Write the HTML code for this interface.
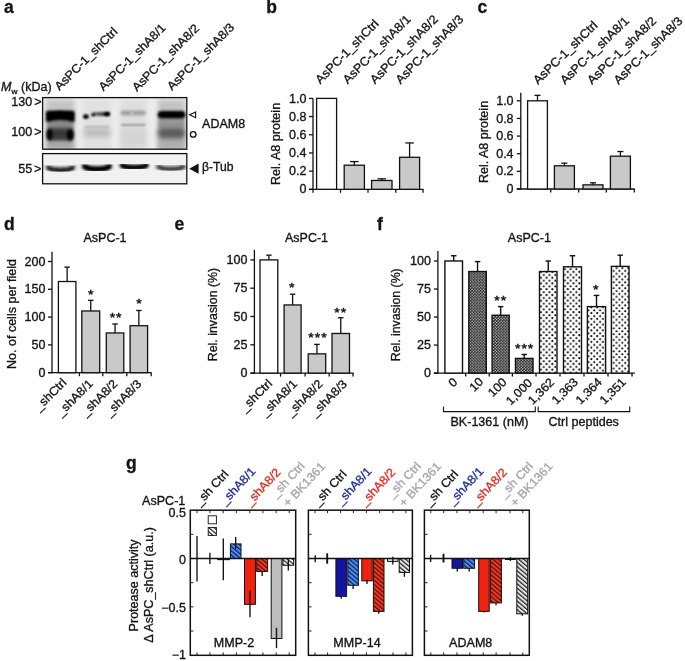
<!DOCTYPE html>
<html><head><meta charset="utf-8"><title>figure</title>
<style>
html,body{margin:0;padding:0;background:#fff;}
body{width:685px;height:661px;overflow:hidden;}
svg{display:block;filter:blur(0.4px);font-family:"Liberation Sans",sans-serif;}
</style></head><body>
<svg width="685" height="661" viewBox="0 0 685 661">
<defs>
<filter id="b1" x="-30%" y="-60%" width="160%" height="220%"><feGaussianBlur stdDeviation="1.6"/></filter>
<filter id="b2" x="-30%" y="-60%" width="160%" height="220%"><feGaussianBlur stdDeviation="2.6"/></filter>
<filter id="b3" x="-30%" y="-60%" width="160%" height="220%"><feGaussianBlur stdDeviation="1.0"/></filter>
<clipPath id="c1"><rect x="42.6" y="97.6" width="144.2" height="51.6"/></clipPath>
<linearGradient id="g2" x1="0" x2="1" y1="0" y2="0"><stop offset="0" stop-color="#8a8a8a"/><stop offset="0.55" stop-color="#444"/><stop offset="1" stop-color="#000"/></linearGradient>
<clipPath id="c2"><rect x="42.6" y="153.6" width="144.2" height="30.2"/></clipPath>
<pattern id="pdark" width="2.9" height="2.9" patternUnits="userSpaceOnUse"><rect width="2.9" height="2.9" fill="#0c0c0c"/><circle cx="0.73" cy="0.73" r="0.72" fill="#fff"/><circle cx="2.18" cy="2.18" r="0.72" fill="#fff"/></pattern>
<pattern id="hB" width="3.3" height="3.3" patternUnits="userSpaceOnUse" patternTransform="rotate(-50)"><rect width="3.3" height="3.3" fill="#4f8fe8"/><rect width="1.25" height="3.3" fill="#0a1e6e"/></pattern>
<pattern id="hR" width="3.3" height="3.3" patternUnits="userSpaceOnUse" patternTransform="rotate(-50)"><rect width="3.3" height="3.3" fill="#f23a22"/><rect width="1.25" height="3.3" fill="#5a0a05"/></pattern>
<pattern id="hG" width="3.3" height="3.3" patternUnits="userSpaceOnUse" patternTransform="rotate(-50)"><rect width="3.3" height="3.3" fill="#e6e6e6"/><rect width="1.25" height="3.3" fill="#222"/></pattern>
<pattern id="hW" width="3.3" height="3.3" patternUnits="userSpaceOnUse" patternTransform="rotate(-50)"><rect width="3.3" height="3.3" fill="#fff"/><rect width="1.25" height="3.3" fill="#222"/></pattern>
</defs>
<rect width="685" height="661" fill="#fff"/>

<text transform="translate(4 13.0)" font-size="17.5" font-weight="bold" fill="#141414" stroke="#141414" stroke-width="0.32">a</text>
<text transform="translate(266.3 13.0)" font-size="17.5" font-weight="bold" fill="#141414" stroke="#141414" stroke-width="0.32">b</text>
<text transform="translate(477.6 13.0)" font-size="17.5" font-weight="bold" fill="#141414" stroke="#141414" stroke-width="0.32">c</text>
<text transform="translate(4 229.5)" font-size="17.5" font-weight="bold" fill="#141414" stroke="#141414" stroke-width="0.32">d</text>
<text transform="translate(174.5 230.3)" font-size="17.5" font-weight="bold" fill="#141414" stroke="#141414" stroke-width="0.32">e</text>
<text transform="translate(377 230)" font-size="17.5" font-weight="bold" fill="#141414" stroke="#141414" stroke-width="0.32">f</text>
<text transform="translate(126 469.0)" font-size="17.5" font-weight="bold" fill="#141414" stroke="#141414" stroke-width="0.32">g</text>
<g clip-path="url(#c1)">
<rect x="42" y="97" width="146" height="53" fill="#ececec"/>
<rect x="46" y="94" width="28.5" height="60" fill="#c4c4c4" filter="url(#b2)"/>
<rect x="83" y="94" width="28" height="60" fill="#e1e1e1" filter="url(#b2)"/>
<rect x="120.5" y="94" width="25.5" height="60" fill="#dedede" filter="url(#b2)"/>
<rect x="158" y="94" width="27" height="60" fill="#c3c3c3" filter="url(#b2)"/>
<rect x="43" y="94" width="145" height="6" fill="#e6e6e6" filter="url(#b2)"/>
<rect x="47" y="120" width="26.5" height="9" fill="#8a8a8a" filter="url(#b1)"/>
<rect x="47" y="141" width="26.5" height="7" fill="#a2a2a2" filter="url(#b2)"/>
<rect x="47" y="127.6" width="26.5" height="13.4" rx="4" fill="#484848" filter="url(#b1)"/>
<rect x="50" y="130.5" width="20" height="7" rx="3" fill="#383838" filter="url(#b1)"/>
<ellipse cx="49.6" cy="134.6" rx="3.0" ry="5.8" fill="#000" filter="url(#b1)"/>
<ellipse cx="70.2" cy="134.8" rx="3.4" ry="5.8" fill="#000" filter="url(#b1)"/>
<path d="M46.3 111.3 Q60 110.1 74.3 111.3 V122.1 Q60 117.7 46.3 122.1 Z" fill="#111" filter="url(#b1)"/>
<path d="M46.8 111.8 Q60 110.7 73.8 111.8 V121.1 Q60 117.1 46.8 121.1 Z" fill="#000" filter="url(#b3)"/>
<rect x="84" y="128.5" width="26" height="8.5" fill="#bcbcbc" filter="url(#b2)"/>
<rect x="84.5" y="126.3" width="24.5" height="1.4" fill="#a8a8a8" filter="url(#b3)"/>
<rect x="92" y="111.9" width="18" height="4.2" rx="2" fill="url(#g2)" filter="url(#b3)"/>
<ellipse cx="85.9" cy="116.6" rx="2.9" ry="2.3" fill="#000" filter="url(#b3)"/>
<ellipse cx="93.2" cy="114.7" rx="1.9" ry="1.5" fill="#000" filter="url(#b3)"/>
<ellipse cx="107" cy="114.1" rx="2.7" ry="1.9" fill="#000" filter="url(#b3)"/>
<rect x="121" y="128" width="25" height="18" fill="#d4d4d4" filter="url(#b2)"/>
<rect x="120.5" y="110.7" width="25.3" height="4.6" rx="2" fill="#9c9c9c" filter="url(#b1)"/>
<ellipse cx="132" cy="113.6" rx="1.2" ry="1.5" fill="#dcdcdc" filter="url(#b3)"/>
<rect x="121" y="124.0" width="24.6" height="1.8" fill="#8e8e8e" filter="url(#b3)"/>
<rect x="158.3" y="116.5" width="26.5" height="11" fill="#979797" filter="url(#b1)"/>
<rect x="158.3" y="138" width="26.5" height="11" fill="#adadad" filter="url(#b2)"/>
<rect x="158.3" y="127.3" width="26.5" height="11" rx="3" fill="#6c6c6c" filter="url(#b2)"/>
<rect x="159.5" y="130.5" width="24" height="6" rx="3" fill="#585858" filter="url(#b2)"/>
<rect x="158" y="111.3" width="27" height="6.6" rx="3" fill="#111" filter="url(#b1)"/>
<rect x="158.6" y="112" width="26" height="5.2" rx="2.5" fill="#000" filter="url(#b3)"/>
</g>
<rect x="42.60" y="97.60" width="144.20" height="51.60" fill="none" stroke="#111" stroke-width="1.3"/>
<g clip-path="url(#c2)">
<rect x="42" y="153" width="146" height="32" fill="#f1f1f1"/>
<path d="M48 167.28 Q51 169.48 60.5 169.48 Q70 169.48 73 167.28" fill="none" stroke="#8a8a8a" stroke-width="6.2" stroke-linecap="round" filter="url(#b1)"/>
<path d="M48.5 167.98 Q51.5 170.18 60.5 170.18 Q69.5 170.18 72.5 167.98" fill="none" stroke="#151515" stroke-width="3.4" stroke-linecap="round" filter="url(#b3)"/>
<path d="M84.5 166.24 Q87.5 168.84 96.9 168.84 Q106.3 168.84 109.3 166.24" fill="none" stroke="#555" stroke-width="6.2" stroke-linecap="round" filter="url(#b1)"/>
<path d="M85 166.64 Q88 169.24 97.0 169.24 Q106 169.24 109 166.64" fill="none" stroke="#000" stroke-width="4.2" stroke-linecap="round" filter="url(#b3)"/>
<path d="M122 165.20 Q125 167.20 134.15 167.20 Q143.3 167.20 146.3 165.20" fill="none" stroke="#555" stroke-width="5.6" stroke-linecap="round" filter="url(#b1)"/>
<path d="M122.5 165.60 Q125.5 167.60 134.25 167.60 Q143 167.60 146 165.60" fill="none" stroke="#000" stroke-width="3.8" stroke-linecap="round" filter="url(#b3)"/>
<path d="M158.5 166.48 Q161.5 168.68 171.0 168.68 Q180.5 168.68 183.5 166.48" fill="none" stroke="#9a9a9a" stroke-width="7.0" stroke-linecap="round" filter="url(#b1)"/>
<path d="M159 166.98 Q162 169.18 171.0 169.18 Q180 169.18 183 166.98" fill="none" stroke="#3a3a3a" stroke-width="3.4" stroke-linecap="round" filter="url(#b3)"/>
</g>
<rect x="42.60" y="153.60" width="144.20" height="30.20" fill="none" stroke="#111" stroke-width="1.3"/>
<text transform="translate(1 91) scale(1.045 1)" font-size="12" fill="#141414" stroke="#141414" stroke-width="0.32"><tspan font-style="italic">M</tspan><tspan font-size="8" dy="2.5">w</tspan><tspan dy="-2.5"> (kDa)</tspan></text>
<text transform="translate(32.2 106.0) scale(1.045 1)" font-size="12" text-anchor="end" fill="#141414" stroke="#141414" stroke-width="0.32">130</text>
<text transform="translate(34.3 106.3) scale(1.045 1)" font-size="12" fill="#141414" stroke="#141414" stroke-width="0.32">&gt;</text>
<text transform="translate(32.2 136.2) scale(1.045 1)" font-size="12" text-anchor="end" fill="#141414" stroke="#141414" stroke-width="0.32">100</text>
<text transform="translate(34.3 136.2) scale(1.045 1)" font-size="12" fill="#141414" stroke="#141414" stroke-width="0.32">&gt;</text>
<text transform="translate(32.2 173.2) scale(1.045 1)" font-size="12" text-anchor="end" fill="#141414" stroke="#141414" stroke-width="0.32">55</text>
<text transform="translate(34 173) scale(1.045 1)" font-size="12" fill="#141414" stroke="#141414" stroke-width="0.32">&gt;</text>
<path d="M195.6 111.9 L189.7 114.8 L195.6 117.7 Z" fill="none" stroke="#111" stroke-width="1.15"/>
<circle cx="193.2" cy="134.4" r="2.8" fill="none" stroke="#111" stroke-width="1.3"/>
<path d="M198.6 163.6 L189.2 168.7 L198.6 173.8 Z" fill="#111"/>
<text transform="translate(202.1 127.8) scale(1.045 1)" font-size="12" fill="#141414" stroke="#141414" stroke-width="0.32">ADAM8</text>
<text transform="translate(202 170.8) scale(1.0151 1)" font-size="12" fill="#141414" stroke="#141414" stroke-width="0.32">&#946;-Tub</text>
<text transform="translate(59.5 91) rotate(-45) scale(1.045 1)" font-size="12" fill="#141414" stroke="#141414" stroke-width="0.32">AsPC-1_shCtrl</text>
<text transform="translate(103.5 91.5) rotate(-45) scale(1.045 1)" font-size="12" fill="#141414" stroke="#141414" stroke-width="0.32">AsPC-1_shA8/1</text>
<text transform="translate(137 92) rotate(-45) scale(1.045 1)" font-size="12" fill="#141414" stroke="#141414" stroke-width="0.32">AsPC-1_shA8/2</text>
<text transform="translate(172 91) rotate(-45) scale(1.045 1)" font-size="12" fill="#141414" stroke="#141414" stroke-width="0.32">AsPC-1_shA8/3</text>
<line x1="313" y1="98.4" x2="313" y2="189.9" stroke="#111" stroke-width="1.3"/>
<line x1="309" y1="189.3" x2="423.5" y2="189.3" stroke="#111" stroke-width="1.3"/>
<line x1="309" y1="189.3" x2="313" y2="189.3" stroke="#111" stroke-width="1.3"/>
<text transform="translate(306.5 193.4) scale(1.045 1)" font-size="12" text-anchor="end" fill="#141414" stroke="#141414" stroke-width="0.32">0</text>
<line x1="309" y1="171.12" x2="313" y2="171.12" stroke="#111" stroke-width="1.3"/>
<text transform="translate(306.5 175.22) scale(1.045 1)" font-size="12" text-anchor="end" fill="#141414" stroke="#141414" stroke-width="0.32">0.2</text>
<line x1="309" y1="152.94" x2="313" y2="152.94" stroke="#111" stroke-width="1.3"/>
<text transform="translate(306.5 157.04) scale(1.045 1)" font-size="12" text-anchor="end" fill="#141414" stroke="#141414" stroke-width="0.32">0.4</text>
<line x1="309" y1="134.76000000000002" x2="313" y2="134.76000000000002" stroke="#111" stroke-width="1.3"/>
<text transform="translate(306.5 138.86) scale(1.045 1)" font-size="12" text-anchor="end" fill="#141414" stroke="#141414" stroke-width="0.32">0.6</text>
<line x1="309" y1="116.58" x2="313" y2="116.58" stroke="#111" stroke-width="1.3"/>
<text transform="translate(306.5 120.67999999999999) scale(1.045 1)" font-size="12" text-anchor="end" fill="#141414" stroke="#141414" stroke-width="0.32">0.8</text>
<line x1="309" y1="98.4" x2="313" y2="98.4" stroke="#111" stroke-width="1.3"/>
<text transform="translate(306.5 102.5) scale(1.045 1)" font-size="12" text-anchor="end" fill="#141414" stroke="#141414" stroke-width="0.32">1.0</text>
<line x1="313" y1="189.3" x2="313" y2="192.8" stroke="#111" stroke-width="1.3"/>
<line x1="340.5" y1="189.3" x2="340.5" y2="192.8" stroke="#111" stroke-width="1.3"/>
<line x1="368" y1="189.3" x2="368" y2="192.8" stroke="#111" stroke-width="1.3"/>
<line x1="395.8" y1="189.3" x2="395.8" y2="192.8" stroke="#111" stroke-width="1.3"/>
<line x1="423" y1="189.3" x2="423" y2="192.8" stroke="#111" stroke-width="1.3"/>
<rect x="316.60" y="98.40" width="20.00" height="90.90" fill="#fff" stroke="#111" stroke-width="1.3"/>
<line x1="354.29999999999995" y1="165.2115" x2="354.29999999999995" y2="161.5755" stroke="#111" stroke-width="1.3"/>
<line x1="350.04999999999995" y1="161.5755" x2="358.54999999999995" y2="161.5755" stroke="#111" stroke-width="1.3"/>
<rect x="344.20" y="165.21" width="20.20" height="24.09" fill="#c9c9c9" stroke="#111" stroke-width="1.3"/>
<line x1="381.8" y1="180.48270000000002" x2="381.8" y2="178.84650000000002" stroke="#111" stroke-width="1.3"/>
<line x1="377.55" y1="178.84650000000002" x2="386.05" y2="178.84650000000002" stroke="#111" stroke-width="1.3"/>
<rect x="371.60" y="180.48" width="20.40" height="8.82" fill="#c9c9c9" stroke="#111" stroke-width="1.3"/>
<line x1="409.6" y1="157.3032" x2="409.6" y2="142.941" stroke="#111" stroke-width="1.3"/>
<line x1="405.35" y1="142.941" x2="413.85" y2="142.941" stroke="#111" stroke-width="1.3"/>
<rect x="399.60" y="157.30" width="20.00" height="32.00" fill="#c9c9c9" stroke="#111" stroke-width="1.3"/>
<text transform="translate(280 144) rotate(-90) scale(1.045 1)" font-size="12" text-anchor="middle" fill="#141414" stroke="#141414" stroke-width="0.32">Rel. A8 protein</text>
<text transform="translate(320.2 84.4) rotate(-45.3) scale(1.045 1)" font-size="12.2" fill="#141414" stroke="#141414" stroke-width="0.32">AsPC-1_shCtrl</text>
<text transform="translate(347.7 84.4) rotate(-45.3) scale(1.045 1)" font-size="12.2" fill="#141414" stroke="#141414" stroke-width="0.32">AsPC-1_shA8/1</text>
<text transform="translate(375 84.4) rotate(-45.3) scale(1.045 1)" font-size="12.2" fill="#141414" stroke="#141414" stroke-width="0.32">AsPC-1_shA8/2</text>
<text transform="translate(400.4 84.4) rotate(-45.3) scale(1.045 1)" font-size="12.2" fill="#141414" stroke="#141414" stroke-width="0.32">AsPC-1_shA8/3</text>
<line x1="520.8" y1="92.7" x2="520.8" y2="189.6" stroke="#111" stroke-width="1.3"/>
<line x1="516.8" y1="189" x2="634.8" y2="189" stroke="#111" stroke-width="1.3"/>
<line x1="516.8" y1="189.0" x2="520.8" y2="189.0" stroke="#111" stroke-width="1.3"/>
<text transform="translate(513.6 193.1) scale(1.045 1)" font-size="12" text-anchor="end" fill="#141414" stroke="#141414" stroke-width="0.32">0</text>
<line x1="516.8" y1="171.36" x2="520.8" y2="171.36" stroke="#111" stroke-width="1.3"/>
<text transform="translate(513.6 175.46) scale(1.045 1)" font-size="12" text-anchor="end" fill="#141414" stroke="#141414" stroke-width="0.32">0.2</text>
<line x1="516.8" y1="153.72" x2="520.8" y2="153.72" stroke="#111" stroke-width="1.3"/>
<text transform="translate(513.6 157.82) scale(1.045 1)" font-size="12" text-anchor="end" fill="#141414" stroke="#141414" stroke-width="0.32">0.4</text>
<line x1="516.8" y1="136.07999999999998" x2="520.8" y2="136.07999999999998" stroke="#111" stroke-width="1.3"/>
<text transform="translate(513.6 140.17999999999998) scale(1.045 1)" font-size="12" text-anchor="end" fill="#141414" stroke="#141414" stroke-width="0.32">0.6</text>
<line x1="516.8" y1="118.44" x2="520.8" y2="118.44" stroke="#111" stroke-width="1.3"/>
<text transform="translate(513.6 122.53999999999999) scale(1.045 1)" font-size="12" text-anchor="end" fill="#141414" stroke="#141414" stroke-width="0.32">0.8</text>
<line x1="516.8" y1="100.8" x2="520.8" y2="100.8" stroke="#111" stroke-width="1.3"/>
<text transform="translate(513.6 104.89999999999999) scale(1.045 1)" font-size="12" text-anchor="end" fill="#141414" stroke="#141414" stroke-width="0.32">1.0</text>
<line x1="550.7" y1="189" x2="550.7" y2="192.5" stroke="#111" stroke-width="1.3"/>
<line x1="578.7" y1="189" x2="578.7" y2="192.5" stroke="#111" stroke-width="1.3"/>
<line x1="606.3" y1="189" x2="606.3" y2="192.5" stroke="#111" stroke-width="1.3"/>
<line x1="634.3" y1="189" x2="634.3" y2="192.5" stroke="#111" stroke-width="1.3"/>
<line x1="537.5" y1="100.8" x2="537.5" y2="95.3316" stroke="#111" stroke-width="1.3"/>
<line x1="534.5" y1="95.3316" x2="540.5" y2="95.3316" stroke="#111" stroke-width="1.3"/>
<rect x="527.60" y="100.80" width="19.80" height="88.20" fill="#fff" stroke="#111" stroke-width="1.3"/>
<line x1="564.4" y1="165.8034" x2="564.4" y2="163.1574" stroke="#111" stroke-width="1.3"/>
<line x1="561.4" y1="163.1574" x2="567.4" y2="163.1574" stroke="#111" stroke-width="1.3"/>
<rect x="554.40" y="165.80" width="20.00" height="23.20" fill="#c9c9c9" stroke="#111" stroke-width="1.3"/>
<line x1="593.0" y1="184.8546" x2="593.0" y2="182.826" stroke="#111" stroke-width="1.3"/>
<line x1="590.0" y1="182.826" x2="596.0" y2="182.826" stroke="#111" stroke-width="1.3"/>
<rect x="583.00" y="184.85" width="20.00" height="4.15" fill="#c9c9c9" stroke="#111" stroke-width="1.3"/>
<line x1="620.4" y1="156.18959999999998" x2="620.4" y2="151.515" stroke="#111" stroke-width="1.3"/>
<line x1="617.4" y1="151.515" x2="623.4" y2="151.515" stroke="#111" stroke-width="1.3"/>
<rect x="610.40" y="156.19" width="20.00" height="32.81" fill="#c9c9c9" stroke="#111" stroke-width="1.3"/>
<text transform="translate(487.6 142) rotate(-90) scale(1.045 1)" font-size="12" text-anchor="middle" fill="#141414" stroke="#141414" stroke-width="0.32">Rel. A8 protein</text>
<text transform="translate(538 84.9) rotate(-44.2) scale(1.045 1)" font-size="12.2" fill="#141414" stroke="#141414" stroke-width="0.32">AsPC-1_shCtrl</text>
<text transform="translate(564.9 84.9) rotate(-44.2) scale(1.045 1)" font-size="12.2" fill="#141414" stroke="#141414" stroke-width="0.32">AsPC-1_shA8/1</text>
<text transform="translate(592.1 84.9) rotate(-44.2) scale(1.045 1)" font-size="12.2" fill="#141414" stroke="#141414" stroke-width="0.32">AsPC-1_shA8/2</text>
<text transform="translate(618.4 84.9) rotate(-44.2) scale(1.045 1)" font-size="12.2" fill="#141414" stroke="#141414" stroke-width="0.32">AsPC-1_shA8/3</text>
<line x1="52" y1="251.7" x2="52" y2="373.3" stroke="#111" stroke-width="1.3"/>
<line x1="48" y1="372.7" x2="151.6" y2="372.7" stroke="#111" stroke-width="1.3"/>
<line x1="48" y1="372.7" x2="52" y2="372.7" stroke="#111" stroke-width="1.3"/>
<text transform="translate(45.5 376.8) scale(1.045 1)" font-size="12" text-anchor="end" fill="#141414" stroke="#141414" stroke-width="0.32">0</text>
<line x1="48" y1="344.9" x2="52" y2="344.9" stroke="#111" stroke-width="1.3"/>
<text transform="translate(45.5 349.0) scale(1.045 1)" font-size="12" text-anchor="end" fill="#141414" stroke="#141414" stroke-width="0.32">50</text>
<line x1="48" y1="317.09999999999997" x2="52" y2="317.09999999999997" stroke="#111" stroke-width="1.3"/>
<text transform="translate(45.5 321.2) scale(1.045 1)" font-size="12" text-anchor="end" fill="#141414" stroke="#141414" stroke-width="0.32">100</text>
<line x1="48" y1="289.29999999999995" x2="52" y2="289.29999999999995" stroke="#111" stroke-width="1.3"/>
<text transform="translate(45.5 293.4) scale(1.045 1)" font-size="12" text-anchor="end" fill="#141414" stroke="#141414" stroke-width="0.32">150</text>
<line x1="48" y1="261.5" x2="52" y2="261.5" stroke="#111" stroke-width="1.3"/>
<text transform="translate(45.5 265.6) scale(1.045 1)" font-size="12" text-anchor="end" fill="#141414" stroke="#141414" stroke-width="0.32">200</text>
<line x1="79.4" y1="372.7" x2="79.4" y2="376.2" stroke="#111" stroke-width="1.3"/>
<line x1="102.8" y1="372.7" x2="102.8" y2="376.2" stroke="#111" stroke-width="1.3"/>
<line x1="126.8" y1="372.7" x2="126.8" y2="376.2" stroke="#111" stroke-width="1.3"/>
<line x1="151.2" y1="372.7" x2="151.2" y2="376.2" stroke="#111" stroke-width="1.3"/>
<line x1="67.15" y1="281.51599999999996" x2="67.15" y2="267.1156" stroke="#111" stroke-width="1.3"/>
<line x1="64.4" y1="267.1156" x2="69.9" y2="267.1156" stroke="#111" stroke-width="1.3"/>
<rect x="58.40" y="281.52" width="17.50" height="91.18" fill="#fff" stroke="#111" stroke-width="1.3"/>
<line x1="90.75" y1="310.984" x2="90.75" y2="300.3088" stroke="#111" stroke-width="1.3"/>
<line x1="88.0" y1="300.3088" x2="93.5" y2="300.3088" stroke="#111" stroke-width="1.3"/>
<rect x="81.80" y="310.98" width="17.90" height="61.72" fill="#c9c9c9" stroke="#111" stroke-width="1.3"/>
<line x1="115.05" y1="332.94599999999997" x2="115.05" y2="323.9944" stroke="#111" stroke-width="1.3"/>
<line x1="112.3" y1="323.9944" x2="117.8" y2="323.9944" stroke="#111" stroke-width="1.3"/>
<rect x="106.30" y="332.95" width="17.50" height="39.75" fill="#c9c9c9" stroke="#111" stroke-width="1.3"/>
<line x1="138.85" y1="325.71799999999996" x2="138.85" y2="310.48359999999997" stroke="#111" stroke-width="1.3"/>
<line x1="136.1" y1="310.48359999999997" x2="141.6" y2="310.48359999999997" stroke="#111" stroke-width="1.3"/>
<rect x="130.10" y="325.72" width="17.50" height="46.98" fill="#c9c9c9" stroke="#111" stroke-width="1.3"/>
<text transform="translate(16 314) rotate(-90) scale(1.045 1)" font-size="12" text-anchor="middle" fill="#141414" stroke="#141414" stroke-width="0.32">No. of cells per field</text>
<text transform="translate(105 241.8) scale(1.045 1)" font-size="12" text-anchor="middle" fill="#141414" stroke="#141414" stroke-width="0.32">AsPC-1</text>
<text transform="translate(91.1 298.6) scale(1.045 1)" font-size="13.5" text-anchor="middle" fill="#141414" letter-spacing="0.9" stroke="#111" stroke-width="0.45">*</text>
<text transform="translate(116.1 322.1) scale(1.045 1)" font-size="13.5" text-anchor="middle" fill="#141414" letter-spacing="0.9" stroke="#111" stroke-width="0.45">**</text>
<text transform="translate(139.5 307.6) scale(1.045 1)" font-size="13.5" text-anchor="middle" fill="#141414" letter-spacing="0.9" stroke="#111" stroke-width="0.45">*</text>
<text transform="translate(67.2 383.4) rotate(-45) scale(1.045 1)" font-size="12" text-anchor="end" fill="#141414" stroke="#141414" stroke-width="0.32">_shCtrl</text>
<text transform="translate(93.6 384.4) rotate(-45) scale(1.045 1)" font-size="12" text-anchor="end" fill="#141414" stroke="#141414" stroke-width="0.32">_shA8/1</text>
<text transform="translate(118.2 384.5) rotate(-45) scale(1.045 1)" font-size="12" text-anchor="end" fill="#141414" stroke="#141414" stroke-width="0.32">_shA8/2</text>
<text transform="translate(142.2 384.6) rotate(-45) scale(1.045 1)" font-size="12" text-anchor="end" fill="#141414" stroke="#141414" stroke-width="0.32">_shA8/3</text>
<line x1="254.4" y1="249.8" x2="254.4" y2="373.70000000000005" stroke="#111" stroke-width="1.3"/>
<line x1="250.4" y1="373.1" x2="353.5" y2="373.1" stroke="#111" stroke-width="1.3"/>
<line x1="250.4" y1="373.1" x2="254.4" y2="373.1" stroke="#111" stroke-width="1.3"/>
<text transform="translate(247.5 377.20000000000005) scale(1.045 1)" font-size="12" text-anchor="end" fill="#141414" stroke="#141414" stroke-width="0.32">0</text>
<line x1="250.4" y1="344.8" x2="254.4" y2="344.8" stroke="#111" stroke-width="1.3"/>
<text transform="translate(247.5 348.90000000000003) scale(1.045 1)" font-size="12" text-anchor="end" fill="#141414" stroke="#141414" stroke-width="0.32">25</text>
<line x1="250.4" y1="316.5" x2="254.4" y2="316.5" stroke="#111" stroke-width="1.3"/>
<text transform="translate(247.5 320.6) scale(1.045 1)" font-size="12" text-anchor="end" fill="#141414" stroke="#141414" stroke-width="0.32">50</text>
<line x1="250.4" y1="288.20000000000005" x2="254.4" y2="288.20000000000005" stroke="#111" stroke-width="1.3"/>
<text transform="translate(247.5 292.30000000000007) scale(1.045 1)" font-size="12" text-anchor="end" fill="#141414" stroke="#141414" stroke-width="0.32">75</text>
<line x1="250.4" y1="259.90000000000003" x2="254.4" y2="259.90000000000003" stroke="#111" stroke-width="1.3"/>
<text transform="translate(247.5 264.00000000000006) scale(1.045 1)" font-size="12" text-anchor="end" fill="#141414" stroke="#141414" stroke-width="0.32">100</text>
<line x1="280.6" y1="373.1" x2="280.6" y2="376.6" stroke="#111" stroke-width="1.3"/>
<line x1="305.1" y1="373.1" x2="305.1" y2="376.6" stroke="#111" stroke-width="1.3"/>
<line x1="329.2" y1="373.1" x2="329.2" y2="376.6" stroke="#111" stroke-width="1.3"/>
<line x1="353" y1="373.1" x2="353" y2="376.6" stroke="#111" stroke-width="1.3"/>
<line x1="268.9" y1="259.90000000000003" x2="268.9" y2="255.14560000000003" stroke="#111" stroke-width="1.3"/>
<line x1="266.15" y1="255.14560000000003" x2="271.65" y2="255.14560000000003" stroke="#111" stroke-width="1.3"/>
<rect x="260.00" y="259.90" width="17.80" height="113.20" fill="#fff" stroke="#111" stroke-width="1.3"/>
<line x1="292.6" y1="304.95360000000005" x2="292.6" y2="294.19960000000003" stroke="#111" stroke-width="1.3"/>
<line x1="289.85" y1="294.19960000000003" x2="295.35" y2="294.19960000000003" stroke="#111" stroke-width="1.3"/>
<rect x="284.10" y="304.95" width="17.00" height="68.15" fill="#c9c9c9" stroke="#111" stroke-width="1.3"/>
<line x1="316.95" y1="353.856" x2="316.95" y2="344.34720000000004" stroke="#111" stroke-width="1.3"/>
<line x1="314.2" y1="344.34720000000004" x2="319.7" y2="344.34720000000004" stroke="#111" stroke-width="1.3"/>
<rect x="308.20" y="353.86" width="17.50" height="19.24" fill="#c9c9c9" stroke="#111" stroke-width="1.3"/>
<line x1="340.75" y1="333.48" x2="340.75" y2="317.7452" stroke="#111" stroke-width="1.3"/>
<line x1="338.0" y1="317.7452" x2="343.5" y2="317.7452" stroke="#111" stroke-width="1.3"/>
<rect x="332.00" y="333.48" width="17.50" height="39.62" fill="#c9c9c9" stroke="#111" stroke-width="1.3"/>
<text transform="translate(216.5 314.5) rotate(-90) scale(1.0309 1)" font-size="12" text-anchor="middle" fill="#141414" stroke="#141414" stroke-width="0.32">Rel. invasion (%)</text>
<text transform="translate(306.5 241.8) scale(1.045 1)" font-size="12" text-anchor="middle" fill="#141414" stroke="#141414" stroke-width="0.32">AsPC-1</text>
<text transform="translate(292.3 291.6) scale(1.045 1)" font-size="13.5" text-anchor="middle" fill="#141414" letter-spacing="0.9" stroke="#111" stroke-width="0.45">*</text>
<text transform="translate(318.0 342.1) scale(1.045 1)" font-size="13.5" text-anchor="middle" fill="#141414" letter-spacing="0.9" stroke="#111" stroke-width="0.45">***</text>
<text transform="translate(340.7 316.6) scale(1.045 1)" font-size="13.5" text-anchor="middle" fill="#141414" letter-spacing="0.9" stroke="#111" stroke-width="0.45">**</text>
<text transform="translate(273 384.3) rotate(-45) scale(1.045 1)" font-size="12" text-anchor="end" fill="#141414" stroke="#141414" stroke-width="0.32">_shCtrl</text>
<text transform="translate(298 384.5) rotate(-45) scale(1.045 1)" font-size="12" text-anchor="end" fill="#141414" stroke="#141414" stroke-width="0.32">_shA8/1</text>
<text transform="translate(323.5 384.6) rotate(-45) scale(1.045 1)" font-size="12" text-anchor="end" fill="#141414" stroke="#141414" stroke-width="0.32">_shA8/2</text>
<text transform="translate(347.8 384.7) rotate(-45) scale(1.045 1)" font-size="12" text-anchor="end" fill="#141414" stroke="#141414" stroke-width="0.32">_shA8/3</text>
<defs><pattern id="pt5" x="542.56" y="273.76" width="5.77" height="5.75" patternUnits="userSpaceOnUse"><rect width="5.77" height="5.75" fill="#fdfdfd"/><circle cx="1.2" cy="1.2" r="1.05" fill="#000"/><circle cx="4.06" cy="4.04" r="1.05" fill="#000"/></pattern></defs>
<defs><pattern id="pt6" x="563.70" y="267.90" width="5.77" height="5.75" patternUnits="userSpaceOnUse"><rect width="5.77" height="5.75" fill="#fdfdfd"/><circle cx="1.2" cy="1.2" r="1.05" fill="#000"/><circle cx="4.10" cy="4.00" r="1.05" fill="#000"/></pattern></defs>
<defs><pattern id="pt7" x="593.10" y="309.20" width="5.77" height="5.75" patternUnits="userSpaceOnUse"><rect width="5.77" height="5.75" fill="#fdfdfd"/><circle cx="1.2" cy="1.2" r="1.05" fill="#000"/><circle cx="4.07" cy="3.90" r="1.05" fill="#000"/></pattern></defs>
<defs><pattern id="pt8" x="612.50" y="269.70" width="5.77" height="5.75" patternUnits="userSpaceOnUse"><rect width="5.77" height="5.75" fill="#fdfdfd"/><circle cx="1.2" cy="1.2" r="1.05" fill="#000"/><circle cx="4.10" cy="4.10" r="1.05" fill="#000"/></pattern></defs>
<line x1="437.9" y1="251" x2="437.9" y2="373.70000000000005" stroke="#111" stroke-width="1.3"/>
<line x1="433.9" y1="373.1" x2="634.8" y2="373.1" stroke="#111" stroke-width="1.3"/>
<line x1="433.9" y1="373.1" x2="437.9" y2="373.1" stroke="#111" stroke-width="1.3"/>
<text transform="translate(431 377.20000000000005) scale(1.045 1)" font-size="12" text-anchor="end" fill="#141414" stroke="#141414" stroke-width="0.32">0</text>
<line x1="433.9" y1="345.07500000000005" x2="437.9" y2="345.07500000000005" stroke="#111" stroke-width="1.3"/>
<text transform="translate(431 349.17500000000007) scale(1.045 1)" font-size="12" text-anchor="end" fill="#141414" stroke="#141414" stroke-width="0.32">25</text>
<line x1="433.9" y1="317.05" x2="437.9" y2="317.05" stroke="#111" stroke-width="1.3"/>
<text transform="translate(431 321.15000000000003) scale(1.045 1)" font-size="12" text-anchor="end" fill="#141414" stroke="#141414" stroke-width="0.32">50</text>
<line x1="433.9" y1="289.02500000000003" x2="437.9" y2="289.02500000000003" stroke="#111" stroke-width="1.3"/>
<text transform="translate(431 293.12500000000006) scale(1.045 1)" font-size="12" text-anchor="end" fill="#141414" stroke="#141414" stroke-width="0.32">75</text>
<line x1="433.9" y1="261.0" x2="437.9" y2="261.0" stroke="#111" stroke-width="1.3"/>
<text transform="translate(431 265.1) scale(1.045 1)" font-size="12" text-anchor="end" fill="#141414" stroke="#141414" stroke-width="0.32">100</text>
<line x1="465.7" y1="373.1" x2="465.7" y2="376.6" stroke="#111" stroke-width="1.3"/>
<line x1="489.2" y1="373.1" x2="489.2" y2="376.6" stroke="#111" stroke-width="1.3"/>
<line x1="512.4" y1="373.1" x2="512.4" y2="376.6" stroke="#111" stroke-width="1.3"/>
<line x1="536" y1="373.1" x2="536" y2="376.6" stroke="#111" stroke-width="1.3"/>
<line x1="560" y1="373.1" x2="560" y2="376.6" stroke="#111" stroke-width="1.3"/>
<line x1="584" y1="373.1" x2="584" y2="376.6" stroke="#111" stroke-width="1.3"/>
<line x1="608" y1="373.1" x2="608" y2="376.6" stroke="#111" stroke-width="1.3"/>
<line x1="632" y1="373.1" x2="632" y2="376.6" stroke="#111" stroke-width="1.3"/>
<line x1="453.7" y1="261.0" x2="453.7" y2="255.73130000000003" stroke="#111" stroke-width="1.4"/>
<line x1="450.95" y1="255.73130000000003" x2="456.45" y2="255.73130000000003" stroke="#111" stroke-width="1.4"/>
<rect x="444.90" y="261.00" width="17.60" height="112.10" fill="#fff" stroke="#111" stroke-width="1.4"/>
<line x1="477.55" y1="271.53740000000005" x2="477.55" y2="261.56050000000005" stroke="#111" stroke-width="1.4"/>
<line x1="474.8" y1="261.56050000000005" x2="480.3" y2="261.56050000000005" stroke="#111" stroke-width="1.4"/>
<rect x="468.80" y="271.54" width="17.50" height="101.56" fill="url(#pdark)" stroke="#111" stroke-width="1.4"/>
<line x1="500.65" y1="315.25640000000004" x2="500.65" y2="306.6247" stroke="#111" stroke-width="1.4"/>
<line x1="497.9" y1="306.6247" x2="503.4" y2="306.6247" stroke="#111" stroke-width="1.4"/>
<rect x="492.10" y="315.26" width="17.10" height="57.84" fill="url(#pdark)" stroke="#111" stroke-width="1.4"/>
<line x1="524.25" y1="358.41490000000005" x2="524.25" y2="354.4914" stroke="#111" stroke-width="1.4"/>
<line x1="521.5" y1="354.4914" x2="527.0" y2="354.4914" stroke="#111" stroke-width="1.4"/>
<rect x="515.50" y="358.41" width="17.50" height="14.69" fill="url(#pdark)" stroke="#111" stroke-width="1.4"/>
<line x1="548.25" y1="271.53740000000005" x2="548.25" y2="261.0" stroke="#111" stroke-width="1.4"/>
<line x1="545.5" y1="261.0" x2="551.0" y2="261.0" stroke="#111" stroke-width="1.4"/>
<rect x="539.50" y="271.54" width="17.50" height="101.56" fill="url(#pt5)" stroke="#111" stroke-width="1.4"/>
<line x1="572.5" y1="266.8292" x2="572.5" y2="255.73130000000003" stroke="#111" stroke-width="1.4"/>
<line x1="569.75" y1="255.73130000000003" x2="575.25" y2="255.73130000000003" stroke="#111" stroke-width="1.4"/>
<rect x="563.50" y="266.83" width="18.00" height="106.27" fill="url(#pt6)" stroke="#111" stroke-width="1.4"/>
<line x1="596.5" y1="306.6247" x2="596.5" y2="295.41470000000004" stroke="#111" stroke-width="1.4"/>
<line x1="593.75" y1="295.41470000000004" x2="599.25" y2="295.41470000000004" stroke="#111" stroke-width="1.4"/>
<rect x="587.40" y="306.62" width="18.20" height="66.48" fill="url(#pt7)" stroke="#111" stroke-width="1.4"/>
<line x1="620.2" y1="266.3808" x2="620.2" y2="255.1708" stroke="#111" stroke-width="1.4"/>
<line x1="617.45" y1="255.1708" x2="622.95" y2="255.1708" stroke="#111" stroke-width="1.4"/>
<rect x="611.40" y="266.38" width="17.60" height="106.72" fill="url(#pt8)" stroke="#111" stroke-width="1.4"/>
<text transform="translate(399.5 314.8) rotate(-90) scale(1.0254 1)" font-size="12" text-anchor="middle" fill="#141414" stroke="#141414" stroke-width="0.32">Rel. invasion (%)</text>
<text transform="translate(529.4 242.2) scale(1.045 1)" font-size="12" text-anchor="middle" fill="#141414" stroke="#141414" stroke-width="0.32">AsPC-1</text>
<text transform="translate(500.8 305.1) scale(1.045 1)" font-size="13.5" text-anchor="middle" fill="#141414" letter-spacing="0.9" stroke="#111" stroke-width="0.45">**</text>
<text transform="translate(524.6 353.1) scale(1.045 1)" font-size="13.5" text-anchor="middle" fill="#141414" letter-spacing="0.9" stroke="#111" stroke-width="0.45">***</text>
<text transform="translate(596.2 293.6) scale(1.045 1)" font-size="13.5" text-anchor="middle" fill="#141414" letter-spacing="0.9" stroke="#111" stroke-width="0.45">*</text>
<text transform="translate(458.3 382.8) rotate(-45) scale(1.045 1)" font-size="12" text-anchor="end" fill="#141414" stroke="#141414" stroke-width="0.32">0</text>
<text transform="translate(484 382.3) rotate(-45) scale(1.045 1)" font-size="12" text-anchor="end" fill="#141414" stroke="#141414" stroke-width="0.32">10</text>
<text transform="translate(507.5 382.8) rotate(-45) scale(1.045 1)" font-size="12" text-anchor="end" fill="#141414" stroke="#141414" stroke-width="0.32">100</text>
<text transform="translate(533 383.5) rotate(-45) scale(1.045 1)" font-size="12" text-anchor="end" fill="#141414" stroke="#141414" stroke-width="0.32">1,000</text>
<text transform="translate(555 383) rotate(-45) scale(1.045 1)" font-size="12" text-anchor="end" fill="#141414" stroke="#141414" stroke-width="0.32">1,362</text>
<text transform="translate(578.8 382.8) rotate(-45) scale(1.045 1)" font-size="12" text-anchor="end" fill="#141414" stroke="#141414" stroke-width="0.32">1,363</text>
<text transform="translate(602.8 382.8) rotate(-45) scale(1.045 1)" font-size="12" text-anchor="end" fill="#141414" stroke="#141414" stroke-width="0.32">1,364</text>
<text transform="translate(626.8 382.8) rotate(-45) scale(1.045 1)" font-size="12" text-anchor="end" fill="#141414" stroke="#141414" stroke-width="0.32">1,351</text>
<path d="M443.5 406.5 V411.6 H535.3 V406.5 M538.2 406.5 V411.6 H629.7 V406.5" fill="none" stroke="#111" stroke-width="1.1"/>
<text transform="translate(489.5 426.3) scale(1.045 1)" font-size="12" text-anchor="middle" fill="#141414" stroke="#141414" stroke-width="0.32">BK-1361 (nM)</text>
<text transform="translate(583.7 426.3) scale(1.045 1)" font-size="12" text-anchor="middle" fill="#141414" stroke="#141414" stroke-width="0.32">Ctrl peptides</text>
<line x1="197" y1="510.2" x2="197" y2="513.2" stroke="#111" stroke-width="0.9"/>
<line x1="197" y1="655.3" x2="197" y2="652.3" stroke="#111" stroke-width="0.9"/>
<line x1="209.9" y1="510.2" x2="209.9" y2="513.2" stroke="#111" stroke-width="0.9"/>
<line x1="209.9" y1="655.3" x2="209.9" y2="652.3" stroke="#111" stroke-width="0.9"/>
<line x1="223.2" y1="510.2" x2="223.2" y2="513.2" stroke="#111" stroke-width="0.9"/>
<line x1="223.2" y1="655.3" x2="223.2" y2="652.3" stroke="#111" stroke-width="0.9"/>
<line x1="236.4" y1="510.2" x2="236.4" y2="513.2" stroke="#111" stroke-width="0.9"/>
<line x1="236.4" y1="655.3" x2="236.4" y2="652.3" stroke="#111" stroke-width="0.9"/>
<line x1="249.8" y1="510.2" x2="249.8" y2="513.2" stroke="#111" stroke-width="0.9"/>
<line x1="249.8" y1="655.3" x2="249.8" y2="652.3" stroke="#111" stroke-width="0.9"/>
<line x1="262.9" y1="510.2" x2="262.9" y2="513.2" stroke="#111" stroke-width="0.9"/>
<line x1="262.9" y1="655.3" x2="262.9" y2="652.3" stroke="#111" stroke-width="0.9"/>
<line x1="276.2" y1="510.2" x2="276.2" y2="513.2" stroke="#111" stroke-width="0.9"/>
<line x1="276.2" y1="655.3" x2="276.2" y2="652.3" stroke="#111" stroke-width="0.9"/>
<line x1="289.2" y1="510.2" x2="289.2" y2="513.2" stroke="#111" stroke-width="0.9"/>
<line x1="289.2" y1="655.3" x2="289.2" y2="652.3" stroke="#111" stroke-width="0.9"/>
<line x1="190.3" y1="534.325" x2="193.5" y2="534.325" stroke="#111" stroke-width="0.9"/>
<line x1="190.3" y1="582.675" x2="193.5" y2="582.675" stroke="#111" stroke-width="0.9"/>
<line x1="190.3" y1="606.85" x2="193.5" y2="606.85" stroke="#111" stroke-width="0.9"/>
<line x1="190.3" y1="631.025" x2="193.5" y2="631.025" stroke="#111" stroke-width="0.9"/>
<line x1="197" y1="536" x2="197" y2="581.5" stroke="#111" stroke-width="1.35"/>
<line x1="209.9" y1="552.8" x2="209.9" y2="564" stroke="#111" stroke-width="1.35"/>
<rect x="217.70" y="558.50" width="11.70" height="1.16" fill="#111" stroke="#111" stroke-width="1.0"/>
<line x1="223.3" y1="538.5" x2="223.3" y2="580.3" stroke="#111" stroke-width="1.35"/>
<rect x="230.40" y="543.90" width="10.60" height="14.60" fill="url(#hB)" stroke="#111" stroke-width="1.0"/>
<line x1="235.7" y1="537" x2="235.7" y2="548.7" stroke="#111" stroke-width="1.35"/>
<rect x="244.50" y="558.50" width="10.90" height="45.84" fill="#f2220e" stroke="#111" stroke-width="1.0"/>
<line x1="250" y1="590.6" x2="250" y2="617.3" stroke="#111" stroke-width="1.35"/>
<rect x="256.70" y="558.50" width="10.90" height="12.96" fill="url(#hR)" stroke="#111" stroke-width="1.0"/>
<line x1="262.2" y1="571" x2="262.2" y2="576" stroke="#111" stroke-width="1.35"/>
<rect x="271.20" y="558.50" width="10.70" height="79.97" fill="#bdbdbd" stroke="#111" stroke-width="1.0"/>
<line x1="276.5" y1="627.8" x2="276.5" y2="648" stroke="#111" stroke-width="1.35"/>
<rect x="282.90" y="558.50" width="10.80" height="6.77" fill="url(#hW)" stroke="#111" stroke-width="1.0"/>
<line x1="288.3" y1="559.5" x2="288.3" y2="570.5" stroke="#111" stroke-width="1.35"/>
<line x1="190.3" y1="558.5" x2="295.7" y2="558.5" stroke="#111" stroke-width="1.4"/>
<rect x="190.30" y="510.20" width="105.40" height="145.10" fill="none" stroke="#111" stroke-width="1.5"/>
<text transform="translate(234 647.3) scale(1.045 1)" font-size="12" text-anchor="middle" fill="#141414" stroke="#141414" stroke-width="0.32">MMP-2</text>
<rect x="208.20" y="515.80" width="8.20" height="8.00" fill="#fff" stroke="#111" stroke-width="0.9"/>
<rect x="208.20" y="527.40" width="8.20" height="8.00" fill="url(#hW)" stroke="#111" stroke-width="0.9"/>
<line x1="315" y1="510.2" x2="315" y2="513.2" stroke="#111" stroke-width="0.9"/>
<line x1="315" y1="655.3" x2="315" y2="652.3" stroke="#111" stroke-width="0.9"/>
<line x1="327.6" y1="510.2" x2="327.6" y2="513.2" stroke="#111" stroke-width="0.9"/>
<line x1="327.6" y1="655.3" x2="327.6" y2="652.3" stroke="#111" stroke-width="0.9"/>
<line x1="340.6" y1="510.2" x2="340.6" y2="513.2" stroke="#111" stroke-width="0.9"/>
<line x1="340.6" y1="655.3" x2="340.6" y2="652.3" stroke="#111" stroke-width="0.9"/>
<line x1="353.4" y1="510.2" x2="353.4" y2="513.2" stroke="#111" stroke-width="0.9"/>
<line x1="353.4" y1="655.3" x2="353.4" y2="652.3" stroke="#111" stroke-width="0.9"/>
<line x1="366.4" y1="510.2" x2="366.4" y2="513.2" stroke="#111" stroke-width="0.9"/>
<line x1="366.4" y1="655.3" x2="366.4" y2="652.3" stroke="#111" stroke-width="0.9"/>
<line x1="379.6" y1="510.2" x2="379.6" y2="513.2" stroke="#111" stroke-width="0.9"/>
<line x1="379.6" y1="655.3" x2="379.6" y2="652.3" stroke="#111" stroke-width="0.9"/>
<line x1="393" y1="510.2" x2="393" y2="513.2" stroke="#111" stroke-width="0.9"/>
<line x1="393" y1="655.3" x2="393" y2="652.3" stroke="#111" stroke-width="0.9"/>
<line x1="405.9" y1="510.2" x2="405.9" y2="513.2" stroke="#111" stroke-width="0.9"/>
<line x1="405.9" y1="655.3" x2="405.9" y2="652.3" stroke="#111" stroke-width="0.9"/>
<line x1="308.4" y1="534.325" x2="311.59999999999997" y2="534.325" stroke="#111" stroke-width="0.9"/>
<line x1="308.4" y1="582.675" x2="311.59999999999997" y2="582.675" stroke="#111" stroke-width="0.9"/>
<line x1="308.4" y1="606.85" x2="311.59999999999997" y2="606.85" stroke="#111" stroke-width="0.9"/>
<line x1="308.4" y1="631.025" x2="311.59999999999997" y2="631.025" stroke="#111" stroke-width="0.9"/>
<line x1="315.2" y1="555.3" x2="315.2" y2="562.3" stroke="#111" stroke-width="1.4"/>
<line x1="327.2" y1="553.3" x2="327.2" y2="563.7" stroke="#111" stroke-width="1.9"/>
<rect x="335.90" y="558.50" width="10.70" height="37.81" fill="#1414a0" stroke="#111" stroke-width="1.0"/>
<line x1="341.3" y1="596" x2="341.3" y2="598.8" stroke="#111" stroke-width="1.35"/>
<rect x="347.80" y="558.50" width="10.60" height="26.79" fill="url(#hB)" stroke="#111" stroke-width="1.0"/>
<line x1="353.1" y1="585" x2="353.1" y2="589" stroke="#111" stroke-width="1.35"/>
<rect x="361.80" y="558.50" width="10.40" height="22.34" fill="#f2220e" stroke="#111" stroke-width="1.0"/>
<line x1="367" y1="579.8" x2="367" y2="584" stroke="#111" stroke-width="1.35"/>
<rect x="373.40" y="558.50" width="10.60" height="52.89" fill="url(#hR)" stroke="#111" stroke-width="1.0"/>
<line x1="378.7" y1="611" x2="378.7" y2="613.8" stroke="#111" stroke-width="1.35"/>
<rect x="387.50" y="558.50" width="10.50" height="2.90" fill="#e4e4e4" stroke="#111" stroke-width="1.0"/>
<line x1="392.8" y1="556.8" x2="392.8" y2="564.6" stroke="#111" stroke-width="1.35"/>
<rect x="399.20" y="558.50" width="10.30" height="13.92" fill="url(#hG)" stroke="#111" stroke-width="1.0"/>
<line x1="404.4" y1="572" x2="404.4" y2="576.8" stroke="#111" stroke-width="1.35"/>
<line x1="308.4" y1="558.5" x2="412.4" y2="558.5" stroke="#111" stroke-width="1.4"/>
<rect x="308.40" y="510.20" width="104.00" height="145.10" fill="none" stroke="#111" stroke-width="1.5"/>
<text transform="translate(357 647.3) scale(1.045 1)" font-size="12" text-anchor="middle" fill="#141414" stroke="#141414" stroke-width="0.32">MMP-14</text>
<line x1="430.8" y1="510.2" x2="430.8" y2="513.2" stroke="#111" stroke-width="0.9"/>
<line x1="430.8" y1="655.3" x2="430.8" y2="652.3" stroke="#111" stroke-width="0.9"/>
<line x1="443.7" y1="510.2" x2="443.7" y2="513.2" stroke="#111" stroke-width="0.9"/>
<line x1="443.7" y1="655.3" x2="443.7" y2="652.3" stroke="#111" stroke-width="0.9"/>
<line x1="456.9" y1="510.2" x2="456.9" y2="513.2" stroke="#111" stroke-width="0.9"/>
<line x1="456.9" y1="655.3" x2="456.9" y2="652.3" stroke="#111" stroke-width="0.9"/>
<line x1="469.8" y1="510.2" x2="469.8" y2="513.2" stroke="#111" stroke-width="0.9"/>
<line x1="469.8" y1="655.3" x2="469.8" y2="652.3" stroke="#111" stroke-width="0.9"/>
<line x1="483.2" y1="510.2" x2="483.2" y2="513.2" stroke="#111" stroke-width="0.9"/>
<line x1="483.2" y1="655.3" x2="483.2" y2="652.3" stroke="#111" stroke-width="0.9"/>
<line x1="496.1" y1="510.2" x2="496.1" y2="513.2" stroke="#111" stroke-width="0.9"/>
<line x1="496.1" y1="655.3" x2="496.1" y2="652.3" stroke="#111" stroke-width="0.9"/>
<line x1="510" y1="510.2" x2="510" y2="513.2" stroke="#111" stroke-width="0.9"/>
<line x1="510" y1="655.3" x2="510" y2="652.3" stroke="#111" stroke-width="0.9"/>
<line x1="522.8" y1="510.2" x2="522.8" y2="513.2" stroke="#111" stroke-width="0.9"/>
<line x1="522.8" y1="655.3" x2="522.8" y2="652.3" stroke="#111" stroke-width="0.9"/>
<line x1="424.4" y1="534.325" x2="427.59999999999997" y2="534.325" stroke="#111" stroke-width="0.9"/>
<line x1="424.4" y1="582.675" x2="427.59999999999997" y2="582.675" stroke="#111" stroke-width="0.9"/>
<line x1="424.4" y1="606.85" x2="427.59999999999997" y2="606.85" stroke="#111" stroke-width="0.9"/>
<line x1="424.4" y1="631.025" x2="427.59999999999997" y2="631.025" stroke="#111" stroke-width="0.9"/>
<line x1="430.6" y1="554.8" x2="430.6" y2="562" stroke="#111" stroke-width="1.4"/>
<line x1="443.5" y1="553.8" x2="443.5" y2="562.5" stroke="#111" stroke-width="1.9"/>
<rect x="452.00" y="558.50" width="10.50" height="9.77" fill="#1414a0" stroke="#111" stroke-width="1.0"/>
<line x1="457.3" y1="568" x2="457.3" y2="571.4" stroke="#111" stroke-width="1.35"/>
<rect x="463.70" y="558.50" width="10.90" height="9.77" fill="url(#hB)" stroke="#111" stroke-width="1.0"/>
<line x1="469.2" y1="568" x2="469.2" y2="571.4" stroke="#111" stroke-width="1.35"/>
<rect x="478.70" y="558.50" width="10.50" height="52.89" fill="#f2220e" stroke="#111" stroke-width="1.0"/>
<line x1="484" y1="611" x2="484" y2="612.6" stroke="#111" stroke-width="1.35"/>
<rect x="490.40" y="558.50" width="11.00" height="44.39" fill="url(#hR)" stroke="#111" stroke-width="1.0"/>
<line x1="496" y1="602.5" x2="496" y2="605.3" stroke="#111" stroke-width="1.35"/>
<rect x="505.60" y="558.50" width="9.70" height="0.97" fill="#111" stroke="#111" stroke-width="1.0"/>
<line x1="510.4" y1="557.2" x2="510.4" y2="561" stroke="#111" stroke-width="1.35"/>
<rect x="516.80" y="558.50" width="10.90" height="55.31" fill="url(#hG)" stroke="#111" stroke-width="1.0"/>
<line x1="522.3" y1="613.5" x2="522.3" y2="615.8" stroke="#111" stroke-width="1.35"/>
<line x1="424.4" y1="558.5" x2="529.3" y2="558.5" stroke="#111" stroke-width="1.4"/>
<rect x="424.40" y="510.20" width="104.90" height="145.10" fill="none" stroke="#111" stroke-width="1.5"/>
<text transform="translate(470.7 647.3) scale(1.045 1)" font-size="12" text-anchor="middle" fill="#141414" stroke="#141414" stroke-width="0.32">ADAM8</text>
<text transform="translate(186 516.9499999999999) scale(1.045 1)" font-size="12" text-anchor="end" fill="#141414" stroke="#141414" stroke-width="0.32">0.5</text>
<text transform="translate(186 563.6999999999999) scale(1.045 1)" font-size="12" text-anchor="end" fill="#141414" stroke="#141414" stroke-width="0.32">0</text>
<text transform="translate(186 611.85) scale(1.045 1)" font-size="12" text-anchor="end" fill="#141414" stroke="#141414" stroke-width="0.32">&#8722;0.5</text>
<text transform="translate(186 659.2) scale(1.045 1)" font-size="12" text-anchor="end" fill="#141414" stroke="#141414" stroke-width="0.32">&#8722;1</text>
<text transform="translate(185.3 504.6) scale(1.045 1)" font-size="12" text-anchor="end" fill="#141414" stroke="#141414" stroke-width="0.32">AsPC-1</text>
<text transform="translate(137.5 585.4) rotate(-90) scale(1.045 1)" font-size="12" text-anchor="middle" fill="#141414" stroke="#141414" stroke-width="0.32">Protease activity</text>
<text transform="translate(153.3 585) rotate(-90) scale(1.045 1)" font-size="12" text-anchor="middle" fill="#141414" stroke="#141414" stroke-width="0.32">&#916; AsPC_shCtrl (a.u.)</text>
<text transform="translate(199.7 506.4) rotate(-47) scale(1.045 1)" font-size="12" fill="#111" stroke="#111" stroke-width="0.32">_sh Ctrl</text>
<text transform="translate(225 505.6) rotate(-47) scale(1.045 1)" font-size="12" fill="#2029a2" stroke="#2029a2" stroke-width="0.32">_shA8/1</text>
<text transform="translate(250 506.5) rotate(-47) scale(1.045 1)" font-size="12" fill="#e8281c" stroke="#e8281c" stroke-width="0.32">_shA8/2</text>
<text transform="translate(276 498.2) rotate(-47) scale(1.045 1)" font-size="12" fill="#a6a6a6" stroke="#a6a6a6" stroke-width="0.32">_sh Ctrl</text>
<text transform="translate(288.3 507.5) rotate(-47) scale(1.045 1)" font-size="12" fill="#a6a6a6" stroke="#a6a6a6" stroke-width="0.32">+ BK1361</text>
<text transform="translate(317.9 506.4) rotate(-47) scale(1.045 1)" font-size="12" fill="#111" stroke="#111" stroke-width="0.32">_sh Ctrl</text>
<text transform="translate(341 505.6) rotate(-47) scale(1.045 1)" font-size="12" fill="#2029a2" stroke="#2029a2" stroke-width="0.32">_shA8/1</text>
<text transform="translate(364.7 506.5) rotate(-47) scale(1.045 1)" font-size="12" fill="#e8281c" stroke="#e8281c" stroke-width="0.32">_shA8/2</text>
<text transform="translate(392.2 498.2) rotate(-47) scale(1.045 1)" font-size="12" fill="#a6a6a6" stroke="#a6a6a6" stroke-width="0.32">_sh Ctrl</text>
<text transform="translate(404.0 507.5) rotate(-47) scale(1.045 1)" font-size="12" fill="#a6a6a6" stroke="#a6a6a6" stroke-width="0.32">+ BK1361</text>
<text transform="translate(429.5 506.4) rotate(-47) scale(1.045 1)" font-size="12" fill="#111" stroke="#111" stroke-width="0.32">_sh Ctrl</text>
<text transform="translate(452.8 505.6) rotate(-47) scale(1.045 1)" font-size="12" fill="#2029a2" stroke="#2029a2" stroke-width="0.32">_shA8/1</text>
<text transform="translate(476.3 506.5) rotate(-47) scale(1.045 1)" font-size="12" fill="#e8281c" stroke="#e8281c" stroke-width="0.32">_shA8/2</text>
<text transform="translate(504.3 498.2) rotate(-47) scale(1.045 1)" font-size="12" fill="#a6a6a6" stroke="#a6a6a6" stroke-width="0.32">_sh Ctrl</text>
<text transform="translate(515.4 507.5) rotate(-47) scale(1.045 1)" font-size="12" fill="#a6a6a6" stroke="#a6a6a6" stroke-width="0.32">+ BK1361</text>
</svg></body></html>
